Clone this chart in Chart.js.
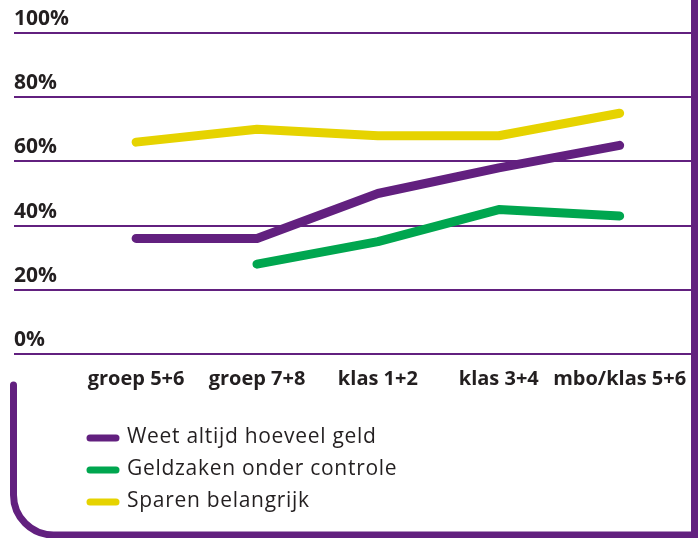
<!DOCTYPE html>
<html>
<head>
<meta charset="utf-8">
<script src="https://cdn.jsdelivr.net/npm/chart.js@4/dist/chart.umd.min.js"></script>
<style>
  html, body { margin: 0; padding: 0; background: #fff; }
  #wrap { width: 698px; height: 538px; }
</style>
</head>
<body>
<div id="wrap"><canvas id="grafiek" width="698" height="538"></canvas></div>
<script>
// === Data ===
const categorieen = ['groep 5+6', 'groep 7+8', 'klas 1+2', 'klas 3+4', 'mbo/klas 5+6'];
const weetGeld = [36, 36, 50, 58, 65];
const geldzaken = [null, 28, 35, 45, 43];
const sparen = [66, 70, 68, 68, 75];
const yTicks = [0, 20, 40, 60, 80, 100];

const paars = '#62207f';
const groen = '#00a64f';
const geel = '#e6d300';
const tekst = '#231f20';
const lettertype = "'Open Sans', sans-serif";

function punten(reeks) {
  return reeks.map((v, i) => ({ x: i, y: v }));
}

// === Kader (paarse rand) ===
const kaderPlugin = {
  id: 'kader',
  beforeDraw(chart) {
    const ctx = chart.ctx;
    ctx.save();
    ctx.fillStyle = paars;
    ctx.fillRect(691, 0, 7, 538);
    ctx.strokeStyle = paars;
    ctx.lineWidth = 7;
    ctx.lineCap = 'round';
    ctx.beginPath();
    ctx.moveTo(13.5, 385);
    ctx.lineTo(13.5, 495);
    ctx.arcTo(13.5, 535, 55, 535, 40);
    ctx.lineTo(700, 535);
    ctx.stroke();
    ctx.restore();
  }
};

// === Legenda ===
const legendaPlugin = {
  id: 'legendaLijnen',
  afterDraw(chart) {
    const ctx = chart.ctx;
    ctx.save();
    chart.data.datasets.forEach((ds, i) => {
      const y = 438 + i * 32;
      ctx.strokeStyle = ds.borderColor;
      ctx.lineWidth = 7;
      ctx.lineCap = 'round';
      ctx.beginPath();
      ctx.moveTo(90, y);
      ctx.lineTo(116, y);
      ctx.stroke();
      ctx.fillStyle = tekst;
      ctx.font = '21px ' + lettertype;
      ctx.letterSpacing = '0.7px';
      ctx.textBaseline = 'alphabetic';
      ctx.fillText(ds.label, 127, y + 5);
    });
    ctx.restore();
  }
};

new Chart(document.getElementById('grafiek'), {
  type: 'line',
  data: {
    datasets: [
      { label: 'Weet altijd hoeveel geld', data: punten(weetGeld), borderColor: paars },
      { label: 'Geldzaken onder controle', data: punten(geldzaken), borderColor: groen },
      { label: 'Sparen belangrijk', data: punten(sparen), borderColor: geel }
    ].map(ds => Object.assign(ds, {
      borderWidth: 9,
      borderCapStyle: 'round',
      borderJoinStyle: 'round',
      pointRadius: 0,
      tension: 0,
      fill: false,
      spanGaps: false
    }))
  },
  options: {
    responsive: false,
    animation: false,
    events: [],
    layout: { padding: { top: 33, left: 14, right: 7, bottom: 144 } },
    plugins: { legend: { display: false }, tooltip: { enabled: false } },
    scales: {
      x: {
        type: 'linear',
        min: -1.01,
        max: 4.59,
        afterBuildTicks: s => { s.ticks = categorieen.map((c, i) => ({ value: i })); },
        afterFit: s => { s.height = 40; },
        grid: { display: false },
        border: { display: false },
        ticks: {
          autoSkip: false,
          maxRotation: 0,
          padding: 5,
          color: tekst,
          font: { family: lettertype, size: 20, weight: 'bold' },
          callback: v => categorieen[v]
        }
      },
      y: {
        min: 0,
        max: 100,
        afterBuildTicks: s => { s.ticks = yTicks.map(v => ({ value: v })); },
        afterFit: s => { s.width = 0; },
        grid: { color: paars, lineWidth: 2, drawTicks: false },
        border: { display: false },
        ticks: {
          mirror: true,
          padding: 0,
          labelOffset: -14,
          color: tekst,
          font: { family: lettertype, size: 21, weight: 'bold' },
          callback: v => v + '%'
        }
      }
    }
  },
  plugins: [kaderPlugin, legendaPlugin]
});
</script>
</body>
</html>
